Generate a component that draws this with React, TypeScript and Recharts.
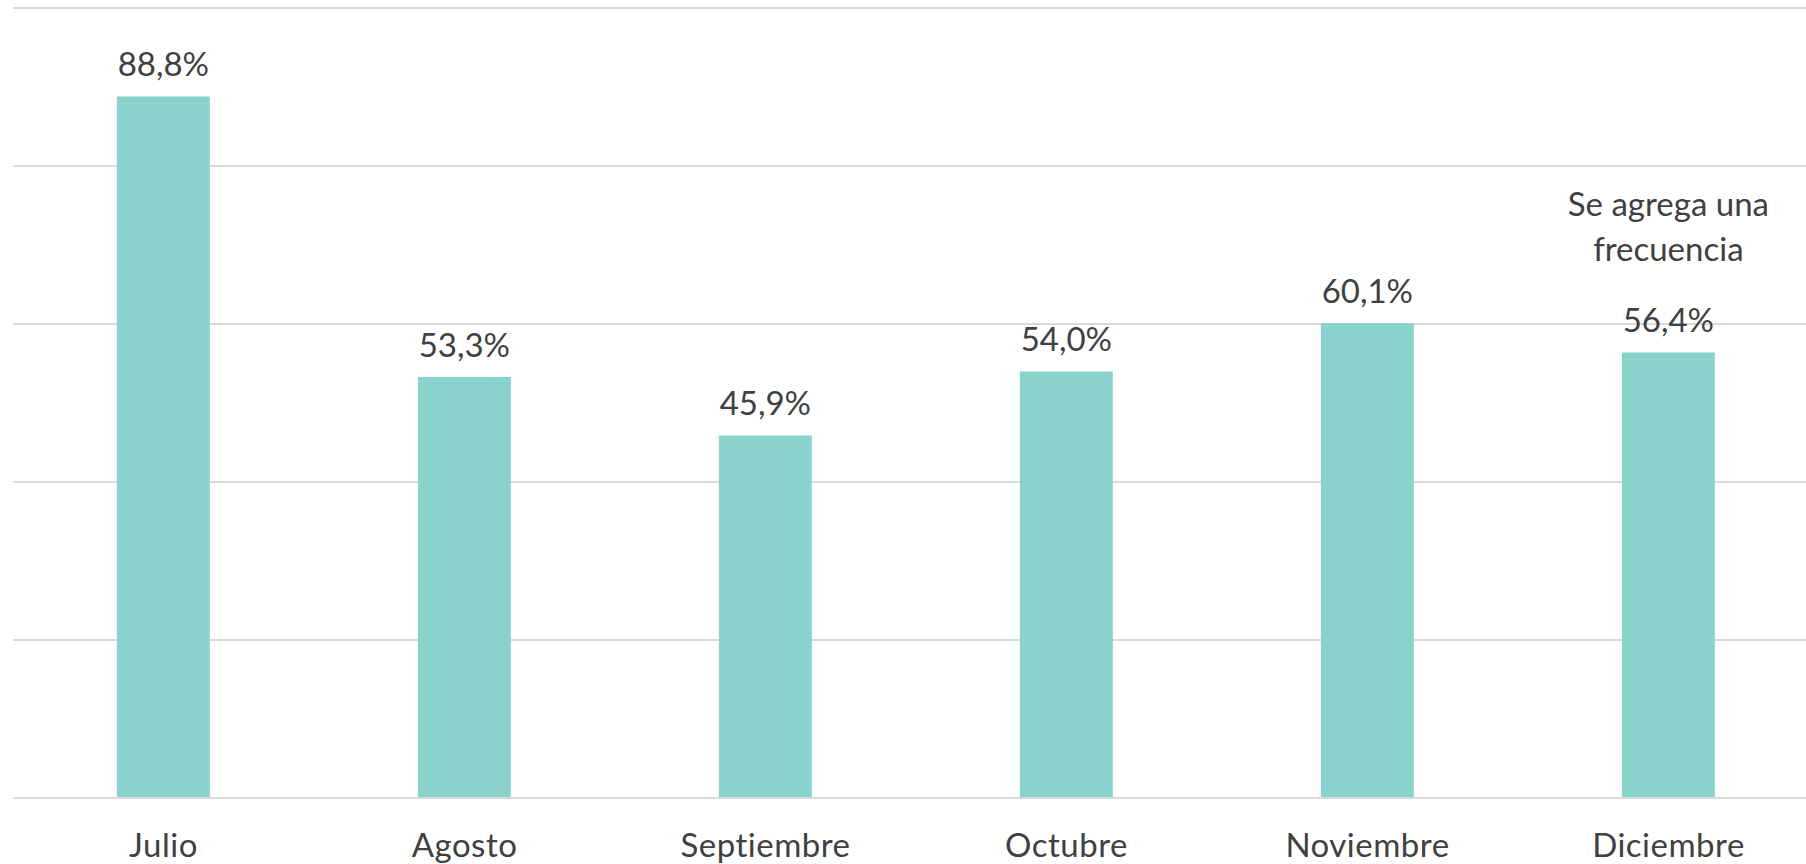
import React from 'react';
import { BarChart, Bar, XAxis, YAxis, CartesianGrid, LabelList } from 'recharts';

const months = ['Julio', 'Agosto', 'Septiembre', 'Octubre', 'Noviembre', 'Diciembre'];
const values = [88.8, 53.3, 45.9, 54.0, 60.1, 56.4];
const notes = ['', '', '', '', '', 'Se agrega una|frecuencia'];
const yTicks = [0, 20, 40, 60, 80, 100];

const data = months.map((m, i) => ({ month: m, value: values[i], note: notes[i] }));

const TEXT = '#404040';
const FONT = 'Lato, "Open Sans", sans-serif';
const textStyle = { fontVariantLigatures: 'none' as const };

const fmt = (v: number) => v.toFixed(1).replace('.', ',') + '%';

const ValueLabel = (props: any) => {
  const { x, y, width, value, index } = props;
  const cx = x + width / 2;
  const base = y - 20;
  const noteLines = notes[index] ? notes[index].split('|') : [];
  return (
    <g>
      <text x={cx} y={base} textAnchor="middle" fill={TEXT} fontSize={33} fontFamily={FONT} style={textStyle}>
        {fmt(value)}
      </text>
      {noteLines.map((line: string, i: number) => (
        <text
          key={i}
          x={cx}
          y={base - 71 - (noteLines.length - 1 - i) * 45}
          textAnchor="middle"
          fill={TEXT}
          fontSize={33}
          fontFamily={FONT}
          style={textStyle}
        >
          {line}
        </text>
      ))}
    </g>
  );
};

const MonthTick = (props: any) => {
  const { x, payload } = props;
  return (
    <text
      x={x}
      y={857}
      textAnchor="middle"
      fill={TEXT}
      fontSize={33}
      fontFamily={FONT}
      letterSpacing={0.5}
      style={textStyle}
    >
      {payload.value}
    </text>
  );
};

export default function App() {
  return (
    <div style={{ position: 'fixed', left: 0, top: 0, background: '#fff' }}>
      <BarChart
        width={1819}
        height={864}
        data={data}
        margin={{ top: 8, right: 0, left: 13, bottom: 6 }}
        barCategoryGap="34.5%"
      >
        <CartesianGrid vertical={false} stroke="#d9d9d9" strokeWidth={2} />
        <XAxis
          dataKey="month"
          axisLine={{ stroke: '#d9d9d9', strokeWidth: 2 }}
          tickLine={false}
          height={60}
          tick={<MonthTick />}
          interval={0}
        />
        <YAxis hide domain={[0, 100]} ticks={yTicks} />
        <Bar dataKey="value" fill="#8ad3cd" isAnimationActive={false}>
          <LabelList dataKey="value" content={<ValueLabel />} />
        </Bar>
      </BarChart>
    </div>
  );
}
